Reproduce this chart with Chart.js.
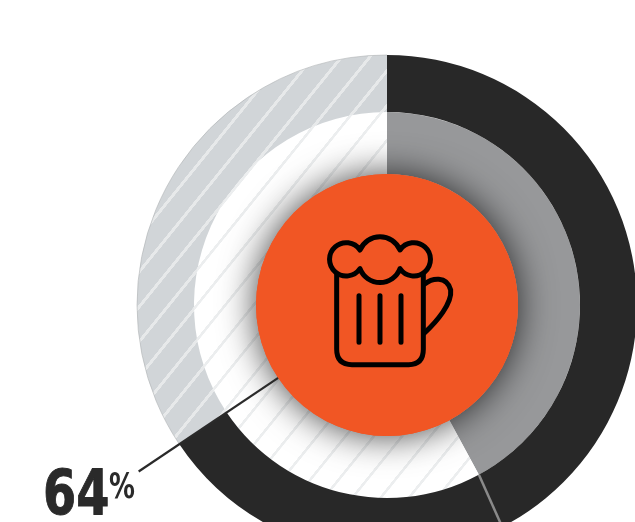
<!DOCTYPE html>
<html>
<head>
<meta charset="utf-8">
<style>
html,body{margin:0;padding:0;background:#fff;overflow:hidden}
#wrap{position:relative;width:635px;height:522px}
canvas{display:block}
</style>
<script src="https://cdn.jsdelivr.net/npm/chart.js@4"></script>
</head>
<body>
<div id="wrap"><canvas id="c" width="635" height="522"></canvas></div>
<script>
const categories = ['Yes', 'No'];
const outerValues = [65.6, 34.4];
const middleValues = [42.1, 57.9];
const outerLabel = '64';
const percentSign = '%';

function hatch(base, line, spacing, width, angleDeg, phase) {
  const S = 4;
  const t = document.createElement('canvas');
  t.width = 8; t.height = spacing * S;
  const g = t.getContext('2d');
  g.fillStyle = base; g.fillRect(0, 0, 8, spacing * S);
  g.fillStyle = line; g.fillRect(0, 0, 8, width * S);
  const p = g.createPattern(t, 'repeat');
  p.setTransform(new DOMMatrix().translate(phase, 0).rotate(-angleDeg).scale(1 / S));
  return p;
}
const outerHatch = hatch('#d1d5d8', '#e7e9ea', 22, 3, 51, 414);
const middleHatch = hatch('#ffffff', '#eceeef', 22, 2.6, 51, 414);

const mugFoam = 'M180 120 A65 65 0 0 1 300 120 A50 50 0 1 1 300 176 A64 64 0 0 1 180 176 A50 50 0 1 1 180 120 Z';
const mugBody = 'M110 192 V418 Q110 464 156 464 H326 Q370 464 370 418 V192';
const mugHandle = 'M374 222 C395 205 440 195 452 240 C457 280 410 335 372 370';
const mugBars = 'M177 257 V397 M240 257 V397 M303 257 V397';

const framePlugin = {
  id: 'frame',
  afterLayout(chart) {
    // the ring runs past the canvas at the right and bottom
    chart.chartArea = { left: 137, top: 55, right: 637, bottom: 555, width: 500, height: 500 };
  }
};

const centerPlugin = {
  id: 'center',
  afterDatasetsDraw(chart) {
    const c = chart.ctx;
    const outer = chart.getDatasetMeta(0).data[0];
    const outerB = chart.getDatasetMeta(0).data[1];
    const mid = chart.getDatasetMeta(1).data[0];
    const cx = outer.x, cy = outer.y;
    const r = mid.innerRadius;
    c.save();

    // hairline on the light part of the outer ring
    c.strokeStyle = '#aeb1b4'; c.lineWidth = 0.6;
    c.beginPath();
    c.arc(cx, cy, outerB.outerRadius, outerB.startAngle, outerB.endAngle);
    c.stroke();

    // disc with soft shadow, kept inside the middle ring
    c.save();
    c.beginPath();
    c.arc(cx, cy, mid.outerRadius, 0, Math.PI * 2);
    c.clip();
    c.shadowColor = 'rgba(0,0,0,0.75)';
    c.shadowBlur = 36;
    c.fillStyle = '#f15624';
    c.beginPath();
    c.arc(cx, cy, r, 0, Math.PI * 2);
    c.fill();
    c.restore();

    // leader lines start from the arc ends
    const leader = (angle, r0, dirAngle, len, color, w) => {
      const x0 = cx + r0 * Math.cos(angle), y0 = cy + r0 * Math.sin(angle);
      c.strokeStyle = color; c.lineWidth = w;
      c.beginPath();
      c.moveTo(x0, y0);
      c.lineTo(x0 + len * Math.cos(dirAngle), y0 + len * Math.sin(dirAngle));
      c.stroke();
    };
    leader(outer.endAngle, r, outer.endAngle, 168, '#2a2a2a', 2.2);
    // the grey leader leans a little steeper than its arc end
    leader(mid.endAngle, mid.outerRadius, mid.endAngle + 4.4 * Math.PI / 180, 90, '#8a8a8a', 2.5);

    // disc on top, then icon
    c.fillStyle = '#f15624';
    c.beginPath();
    c.arc(cx, cy, r, 0, Math.PI * 2);
    c.fill();

    c.save();
    c.translate(300, 210);
    c.scale(1 / 3, 1 / 3);
    c.strokeStyle = '#000';
    c.lineWidth = 15;
    c.lineCap = 'round';
    c.lineJoin = 'round';
    [mugFoam, mugBody, mugHandle, mugBars].forEach(d => c.stroke(new Path2D(d)));
    c.restore();

    // value label, narrowed to the reference's condensed face
    c.fillStyle = '#2a2a2a';
    c.strokeStyle = '#2a2a2a';
    c.textBaseline = 'alphabetic';
    c.textAlign = 'left';
    c.save();
    c.translate(43, 514);
    c.scale(0.77, 1);
    c.font = 'bold 62px "DejaVu Sans"';
    c.lineWidth = 1;
    c.fillText(outerLabel, 0, 0);
    c.strokeText(outerLabel, 0, 0);
    c.restore();
    c.save();
    c.translate(109, 498);
    c.scale(0.74, 1);
    c.font = 'bold 35px "DejaVu Sans"';
    c.fillText(percentSign, 0, 0);
    c.restore();
    c.restore();
  }
};

new Chart(document.getElementById('c'), {
  type: 'doughnut',
  data: {
    labels: categories,
    datasets: [
      { data: outerValues, backgroundColor: ['#282828', outerHatch], borderWidth: 0, weight: 57 },
      { data: middleValues, backgroundColor: ['#97989a', middleHatch], borderWidth: 0, weight: 62 }
    ]
  },
  options: {
    responsive: false,
    animation: false,
    cutout: '52.4%',
    plugins: { legend: { display: false }, tooltip: { enabled: false } }
  },
  plugins: [framePlugin, centerPlugin]
});
</script>
</body>
</html>
